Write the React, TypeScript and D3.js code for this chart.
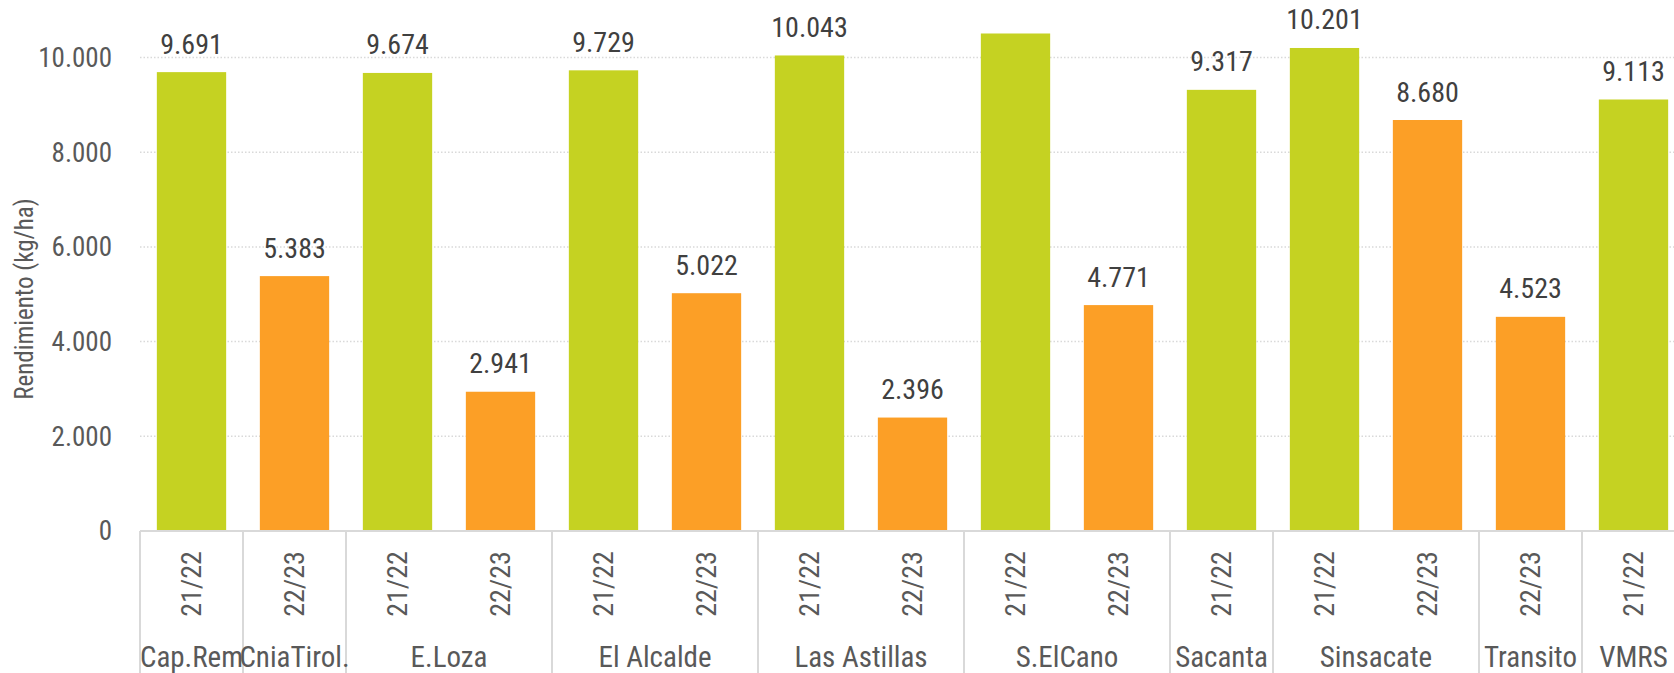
import { useEffect } from "react";
import * as d3 from "d3";

// una barra por fila: localidad, campaña y rendimiento (kg/ha)
const localidades = ["Cap.Rem", "CniaTirol.", "E.Loza", "E.Loza", "El Alcalde", "El Alcalde", "Las Astillas", "Las Astillas", "S.ElCano", "S.ElCano", "Sacanta", "Sinsacate", "Sinsacate", "Transito", "VMRS"];
const campanias = ["21/22", "22/23", "21/22", "22/23", "21/22", "22/23", "21/22", "22/23", "21/22", "22/23", "21/22", "21/22", "22/23", "22/23", "21/22"];
const rendimientos = [9691, 5383, 9674, 2941, 9729, 5022, 10043, 2396, 10507, 4771, 9317, 10201, 8680, 4523, 9113];
const yTicks = [0, 2000, 4000, 6000, 8000, 10000];

const colores: Record<string, string> = { "21/22": "#C5D222", "22/23": "#FC9F26" };

const W = 1674;
const H = 673;
const FONT = "'Roboto Condensed', Roboto, sans-serif";

const fmt = (v: number) => d3.format(",")(v).replace(/,/g, ".");

export default function App() {
  useEffect(() => {
    document.body.style.margin = "0";
  }, []);

  const idx = d3.range(rendimientos.length);
  const x = d3.scaleBand<number>().domain(idx).range([140, 1685]).paddingInner(0.327).paddingOuter(0.1635);
  const y = d3.scaleLinear().domain([0, 10000]).range([531, 57.5]);
  const step = x.step();
  const x0 = x.range()[0];

  // límites de los grupos de localidades
  const grupos: { nombre: string; ini: number; fin: number }[] = [];
  localidades.forEach((l, i) => {
    const g = grupos[grupos.length - 1];
    if (g && g.nombre === l) g.fin = i;
    else grupos.push({ nombre: l, ini: i, fin: i });
  });

  return (
    <svg width={W} height={H} style={{ display: "block", background: "#fff" }} fontFamily={FONT} fontStretch="condensed">
      {/* grilla */}
      {yTicks.slice(1).map((t) => (
        <line key={t} x1={x0} x2={W} y1={y(t)} y2={y(t)} stroke="#d9d9d9" strokeWidth={1.5} strokeDasharray="1.5 2" />
      ))}
      {yTicks.map((t) => (
        <text key={t} x={112} y={y(t)} dy="0.35em" textAnchor="end" fontSize={27} fill="#595959">
          {fmt(t)}
        </text>
      ))}
      <text transform="translate(24,299) rotate(-90)" textAnchor="middle" dy="0.35em" fontSize={25} fill="#595959">
        Rendimiento (kg/ha)
      </text>

      {/* barras */}
      {idx.map((i) => {
        const v = rendimientos[i];
        const top = y(v);
        const cx = x(i)! + x.bandwidth() / 2;
        return (
          <g key={i}>
            <rect x={x(i)} y={top} width={x.bandwidth()} height={y(0) - top} fill={colores[campanias[i]]} />
            {top - 40 > 0 && (
              <text x={cx} y={top - 18.5} textAnchor="middle" fontSize={28} fill="#404040">
                {fmt(v)}
              </text>
            )}
          </g>
        );
      })}

      {/* eje x multinivel */}
      <line x1={x0} x2={W} y1={y(0)} y2={y(0)} stroke="#d9d9d9" strokeWidth={2} />
      {grupos.map((g) => (
        <line key={"d" + g.ini} x1={x0 + g.ini * step} x2={x0 + g.ini * step} y1={y(0)} y2={H} stroke="#d9d9d9" strokeWidth={2} />
      ))}
      {idx.map((i) => (
        <text
          key={"c" + i}
          transform={`translate(${x(i)! + x.bandwidth() / 2},584) rotate(-90)`}
          dy="0.35em"
          textAnchor="middle"
          fontSize={28}
          fill="#595959"
        >
          {campanias[i]}
        </text>
      ))}
      {grupos.map((g) => (
        <text key={"g" + g.ini} x={x0 + ((g.ini + g.fin + 1) / 2) * step} y={667} textAnchor="middle" fontSize={29} fill="#595959">
          {g.nombre}
        </text>
      ))}
    </svg>
  );
}
